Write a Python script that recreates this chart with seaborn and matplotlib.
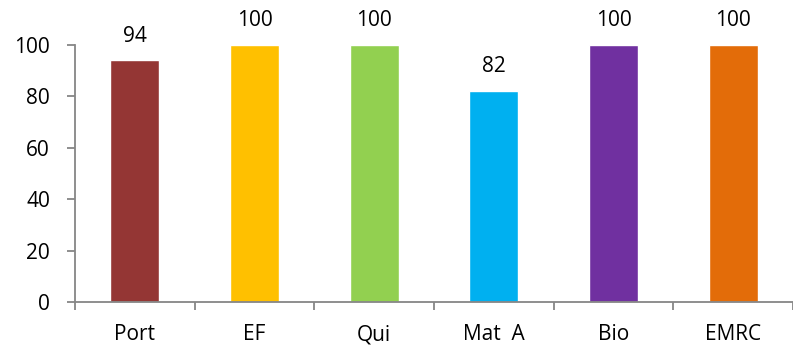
import matplotlib
matplotlib.use("Agg")
import matplotlib.pyplot as plt
import seaborn as sns
import numpy as np
import pandas as pd

subjects = ["Port", "EF", "Qui", "Mat  A", "Bio", "EMRC"]
scores = [94, 100, 100, 82, 100, 100]
colors = ["#943634", "#FFC000", "#92D050", "#00B0F0", "#7030A0", "#E36C09"]

sns.set_style("white")
plt.rcParams["font.family"] = ["Open Sans", "DejaVu Sans"]
plt.rcParams["font.size"] = 15

df = pd.DataFrame({"subject": subjects, "score": scores})

fig = plt.figure(figsize=(7.93, 3.53), dpi=100)
ax = fig.add_axes([0.0946, 0.1445, 0.9054, 0.728])
sns.barplot(data=df, x="subject", y="score", hue="subject", palette=colors,
            width=0.41, legend=False, ax=ax, saturation=1)

for c in ax.containers:
    ax.bar_label(c, padding=10, fontsize=15, color="#000000")

ax.set_ylim(0, 100)
ax.set_xlim(-0.5, len(subjects) - 0.5)
ax.set_yticks(np.arange(0, 101, 20))
ax.set_xlabel("")
ax.set_ylabel("")

spine_col = "#868686"
for s in ["top", "right"]:
    ax.spines[s].set_visible(False)
for s in ["left", "bottom"]:
    ax.spines[s].set_color(spine_col)
    ax.spines[s].set_linewidth(1.3)

ax.tick_params(axis="y", which="major", left=True, length=6, width=1.3,
               color=spine_col, pad=12, labelsize=15, labelcolor="#000000")
ax.tick_params(axis="x", which="major", bottom=False, length=0, pad=16,
               labelsize=15, labelcolor="#000000")
ax.set_xticks(np.arange(len(subjects) + 1) - 0.5, minor=True)
ax.tick_params(axis="x", which="minor", bottom=True, length=6, width=1.3,
               color=spine_col)

fig.savefig("out.png", dpi=100)
